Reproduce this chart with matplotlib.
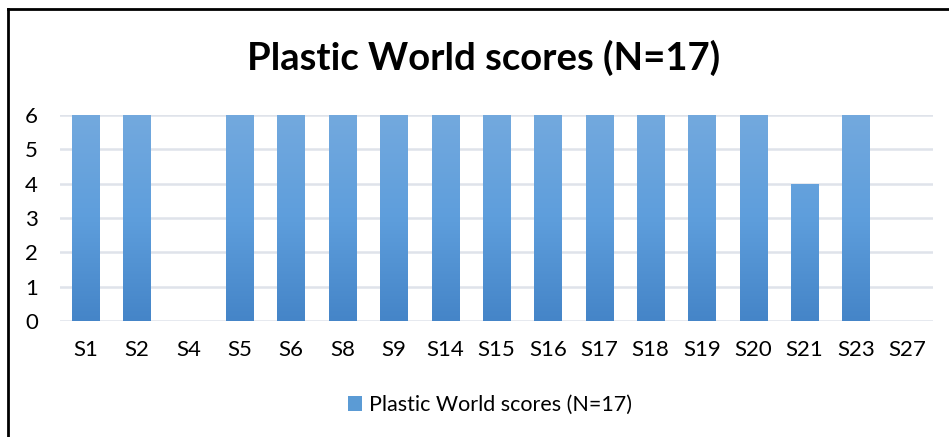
import matplotlib.pyplot as plt
from matplotlib.patches import Patch
from matplotlib.colors import LinearSegmentedColormap
import numpy as np

plt.rcParams['font.family'] = ['Lato', 'DejaVu Sans']

categories = ['S1', 'S2', 'S4', 'S5', 'S6', 'S8', 'S9', 'S14', 'S15', 'S16',
              'S17', 'S18', 'S19', 'S20', 'S21', 'S23', 'S27']
scores = [6, 6, 0, 6, 6, 6, 6, 6, 6, 6, 6, 6, 6, 6, 4, 6, 0]
series_name = 'Plastic World scores (N=17)'

fig = plt.figure(figsize=(9.49, 4.37), dpi=100)
ax = fig.add_axes([60 / 949, 1 - 321 / 437, 873 / 949, 206 / 437])

x = np.arange(len(categories))
bars = ax.bar(x, scores, width=0.53, color='#5b9bd5', zorder=2)

# vertical gradient fill on each bar
grad = LinearSegmentedColormap.from_list('g', ['#4585c8', '#5e9edc', '#73a9de'])
for b in bars:
    h = b.get_height()
    if h <= 0:
        continue
    img = ax.imshow(np.linspace(0, 1, 100).reshape(-1, 1), cmap=grad, origin='lower',
                    extent=[b.get_x(), b.get_x() + b.get_width(), 0, 6],
                    aspect='auto', zorder=3)
    img.set_clip_path(b)

ax.set_xlim(-0.5, len(categories) - 0.5)
ax.set_ylim(0, 6)
ax.set_yticks(range(0, 7))
ax.set_xticks(x)
ax.set_xticklabels(categories)
ax.tick_params(length=0, labelsize=16, colors='black')
ax.tick_params(axis='x', pad=14)
ax.tick_params(axis='y', pad=16)
ax.grid(axis='y', color='#dfe3ea', linewidth=1.8, zorder=0)
for s in ax.spines.values():
    s.set_visible(False)

fig.text(484 / 949, 1 - 58 / 437, 'Plastic World scores (N=17)', ha='center', va='center',
         fontsize=27.5, fontweight='bold')

fig.legend(handles=[Patch(facecolor='#5b9bd5', label=series_name)], loc='center',
           bbox_to_anchor=(490 / 949, 1 - 405 / 437), frameon=False, fontsize=15.5,
           handlelength=0.65, handleheight=0.65, handletextpad=0.35)

# outer border (left and top visible)
fig.add_artist(plt.Line2D([8 / 949, 8 / 949], [0, 1 - 9 / 437], color='black', linewidth=2))
fig.add_artist(plt.Line2D([8 / 949, 1], [1 - 9 / 437, 1 - 9 / 437], color='black', linewidth=2))

fig.savefig('out.png', dpi=100)
